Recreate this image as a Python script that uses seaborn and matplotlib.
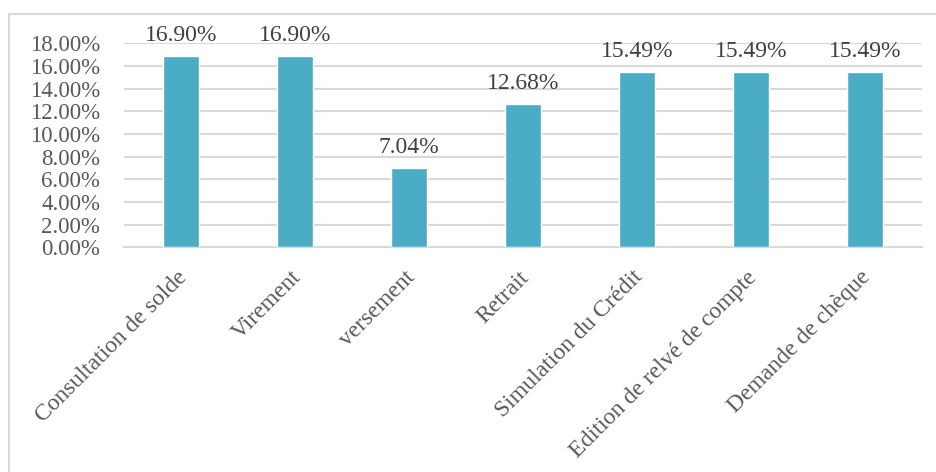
import matplotlib
matplotlib.use("Agg")
import matplotlib.pyplot as plt
import matplotlib.transforms as mtransforms
import seaborn as sns
import pandas as pd
from matplotlib.patches import Rectangle
from matplotlib.ticker import PercentFormatter, MultipleLocator

# Données
operations = ["Consultation de solde", "Virement", "versement", "Retrait",
              "Simulation du Crédit", "Edition de relvé de compte", "Demande de chèque"]
pourcentages = [16.90, 16.90, 7.04, 12.68, 15.49, 15.49, 15.49]

df = pd.DataFrame({"operation": operations, "pct": pourcentages})

sns.set_style("white")
plt.rcParams["font.family"] = ["Liberation Serif", "DejaVu Serif"]

fig = plt.figure(figsize=(9.37, 4.72), dpi=100)
ax = fig.add_axes([0.1323, 0.476, 0.8517, 0.432])

sns.barplot(data=df, x="operation", y="pct", color="#4BACC6", saturation=1,
            width=0.316, ax=ax, zorder=3)

for c in ax.containers:
    ax.bar_label(c, labels=[f"{v:.2f}%" for v in pourcentages], padding=7,
                 fontsize=17, color="#404040")

ax.set_ylim(0, 18)
ax.yaxis.set_major_locator(MultipleLocator(2))
ax.yaxis.set_major_formatter(PercentFormatter(decimals=2))
ax.grid(axis="y", color="#D9D9D9", linewidth=1.5, zorder=0)
ax.set_axisbelow(True)
for s in ["top", "right", "left"]:
    ax.spines[s].set_visible(False)
ax.spines["bottom"].set_color("#D9D9D9")
ax.spines["bottom"].set_linewidth(1.5)
ax.set_xlabel("")
ax.set_ylabel("")
ax.tick_params(axis="both", length=0, labelcolor="#595959")
ax.tick_params(axis="y", pad=17, labelsize=16.5)
ax.tick_params(axis="x", pad=14, labelsize=17)
decal = mtransforms.ScaledTranslation(-5 / 100, 0, fig.dpi_scale_trans)
for lab in ax.get_xticklabels():
    lab.set_rotation(45)
    lab.set_ha("right")
    lab.set_rotation_mode("anchor")
    lab.set_transform(lab.get_transform() + decal)

# cadre du graphique
fig.patches.append(Rectangle((9 / 937, -0.1), 1.1, 1 - 14 / 472 + 0.1,
                             transform=fig.transFigure, fill=False,
                             edgecolor="#D9D9D9", linewidth=1.5))

fig.savefig("out.png", dpi=100)
